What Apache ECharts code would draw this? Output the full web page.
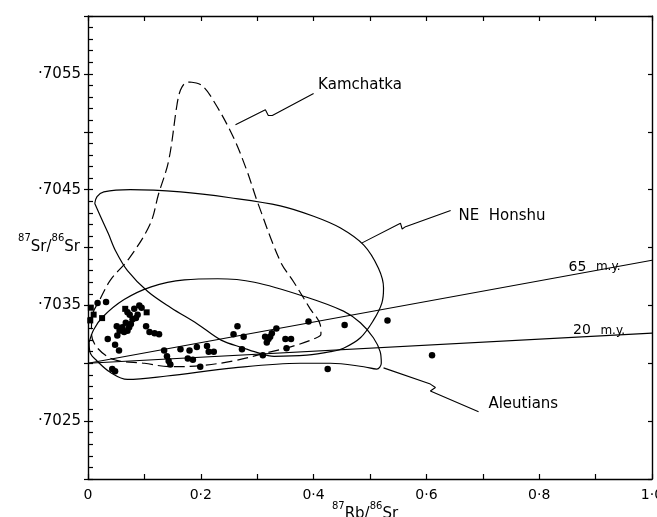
<!DOCTYPE html>
<html>
<head>
<meta charset="utf-8">
<script src="https://cdn.jsdelivr.net/npm/echarts@6/dist/echarts.min.js"></script>
<style>
  html, body { margin: 0; padding: 0; background: #fff; }
  #chart { width: 657px; height: 517px; }
</style>
</head>
<body>
<div id="chart"></div>
<script>
// axis tick labels
const xTickValues = [0, 0.2, 0.4, 0.6, 0.8, 1.0];
const xTickLabels = ['0', '0·2', '0·4', '0·6', '0·8', '1·0'];
const yTickValues = [0.7025, 0.7035, 0.7045, 0.7055];
const yTickLabels = ['·7025', '·7035', '·7045', '·7055'];

// 87Rb/86Sr, 87Sr/86Sr sample analyses (filled circles)
const samplePoints = [
  [0.017, 0.70352], [0.032, 0.70353],
  [0.070, 0.70344], [0.074, 0.70342], [0.082, 0.70347], [0.091, 0.70350],
  [0.095, 0.70348], [0.088, 0.70342], [0.085, 0.70339], [0.079, 0.70338],
  [0.076, 0.70334], [0.067, 0.70335], [0.051, 0.70332], [0.056, 0.70328],
  [0.061, 0.70331], [0.064, 0.70327], [0.070, 0.70328], [0.073, 0.70331],
  [0.052, 0.70324], [0.103, 0.70332], [0.109, 0.70327], [0.118, 0.70326],
  [0.126, 0.70325], [0.035, 0.70321], [0.048, 0.70316], [0.055, 0.70311],
  [0.043, 0.70295], [0.048, 0.70293],
  [0.135, 0.70311], [0.140, 0.70306], [0.143, 0.70302], [0.146, 0.70299],
  [0.164, 0.70312], [0.180, 0.70311], [0.193, 0.70314], [0.211, 0.70315],
  [0.214, 0.70310], [0.223, 0.70310], [0.177, 0.70304], [0.186, 0.70303],
  [0.199, 0.70297],
  [0.258, 0.70325], [0.265, 0.70332], [0.276, 0.70323], [0.273, 0.70312],
  [0.310, 0.70307], [0.314, 0.70323], [0.317, 0.70318], [0.320, 0.70321],
  [0.323, 0.70323], [0.326, 0.70326], [0.334, 0.70330], [0.350, 0.70321],
  [0.360, 0.70321], [0.352, 0.70313], [0.391, 0.70336], [0.425, 0.70295],
  [0.455, 0.70333], [0.531, 0.70337], [0.610, 0.70307]
];

// samples plotted as filled squares
const squarePoints = [
  [0.005, 0.70348], [0.010, 0.70342], [0.004, 0.70337], [0.025, 0.70339],
  [0.066, 0.70347], [0.104, 0.70344]
];

// reference isochrons
const isochron65 = [[0, 0.70300], [1.0, 0.70389]];
const isochron20 = [[0, 0.70300], [1.0, 0.70326]];

// field outlines
const kamchatka = [
  [0.181, 0.70543], [0.202, 0.70540], [0.226, 0.70524], [0.258, 0.70495],
  [0.282, 0.70466], [0.300, 0.70440], [0.341, 0.70388], [0.365, 0.70370],
  [0.394, 0.70347], [0.412, 0.70333], [0.413, 0.70325], [0.400, 0.70321],
  [0.365, 0.70315], [0.317, 0.70309], [0.258, 0.70302], [0.200, 0.70298],
  [0.146, 0.70297], [0.100, 0.70300], [0.047, 0.70303], [0.017, 0.70313],
  [0.006, 0.70326], [0.008, 0.70342], [0.020, 0.70354], [0.040, 0.70372],
  [0.072, 0.70390], [0.110, 0.70420], [0.125, 0.70446], [0.143, 0.70475],
  [0.158, 0.70524], [0.164, 0.70536], [0.172, 0.70542], [0.181, 0.70543]
];

const neHonshu = [
  [0.012, 0.70438], [0.016, 0.70444], [0.028, 0.70448], [0.075, 0.70450],
  [0.164, 0.70448], [0.252, 0.70443], [0.341, 0.70436], [0.400, 0.70427],
  [0.447, 0.70417], [0.489, 0.70402], [0.515, 0.70382], [0.524, 0.70365],
  [0.521, 0.70352], [0.506, 0.70337], [0.483, 0.70322], [0.453, 0.70313],
  [0.430, 0.70310], [0.388, 0.70307], [0.330, 0.70306], [0.295, 0.70310],
  [0.277, 0.70313], [0.236, 0.70320], [0.194, 0.70334], [0.147, 0.70348],
  [0.106, 0.70362], [0.070, 0.70380], [0.049, 0.70397], [0.036, 0.70412],
  [0.022, 0.70427], [0.012, 0.70438]
];

const aleutians = [
  [0.002, 0.70318], [0.010, 0.70329], [0.026, 0.70340], [0.064, 0.70355],
  [0.112, 0.70366], [0.171, 0.70372], [0.230, 0.70373], [0.295, 0.70370],
  [0.388, 0.70357], [0.453, 0.70345], [0.483, 0.70335], [0.506, 0.70322],
  [0.518, 0.70310], [0.520, 0.70300], [0.512, 0.70295], [0.489, 0.70297],
  [0.430, 0.70300], [0.376, 0.70300], [0.258, 0.70296], [0.140, 0.70289],
  [0.070, 0.70286], [0.040, 0.70292], [0.016, 0.70302], [0.004, 0.70309],
  [0.002, 0.70318]
];

// leader lines from labels to fields
const kamchatkaLeader = [[0.2615, 0.70506], [0.3145, 0.70519], [0.3197, 0.70514], [0.3268, 0.70514], [0.400, 0.70533]];
const honshuLeader = [[0.486, 0.70404], [0.554, 0.70421], [0.557, 0.70416], [0.563, 0.70418], [0.643, 0.70432]];
const aleutiansLeader = [[0.524, 0.70296], [0.607, 0.70282], [0.616, 0.70279], [0.607, 0.70276], [0.6925, 0.70258]];

// text annotations
const annotations = [
  { text: 'Kamchatka', at: [0.408, 0.70540] },
  { text: 'NE  Honshu', at: [0.657, 0.70427] },
  { text: 'Aleutians', at: [0.710, 0.70265] },
  { text: '{n|65}  {u|m.y.}', at: [0.852, 0.70383] },
  { text: '{n|20}  {u|m.y.}', at: [0.860, 0.70328] }
];

const FONT = 'DejaVu Sans';
const INK = '#000';

function lookup(values, labels, v) {
  for (let i = 0; i < values.length; i++) {
    if (Math.abs(values[i] - v) < 1e-7) return labels[i];
  }
  return '';
}

function outline(data, dashed) {
  return {
    type: 'line',
    data: data,
    smooth: 0.35,
    symbol: 'none',
    silent: true,
    lineStyle: { color: INK, width: 1.2, type: dashed ? [11, 5] : 'solid' }
  };
}

function straight(data, width) {
  return {
    type: 'line',
    data: data,
    symbol: 'none',
    silent: true,
    lineStyle: { color: INK, width: width }
  };
}

const chart = echarts.init(document.getElementById('chart'));

const labelText = { color: INK, fontFamily: FONT, textBorderWidth: 0, opacity: 1 };

const option = {
  animation: false,
  backgroundColor: '#fff',
  textStyle: { fontFamily: FONT, color: INK },
  grid: { left: 88, top: 16, right: 5, bottom: 38, containLabel: false, outerBoundsMode: 'none' },
  xAxis: [
    {
      type: 'value', min: 0, max: 1, interval: 0.1, position: 'bottom',
      axisLine: { show: true, lineStyle: { color: INK, width: 1.4 } },
      axisTick: { show: true, inside: true, length: 5, lineStyle: { color: INK, width: 1.2 } },
      axisLabel: {
        show: true, margin: 9, fontSize: 14, color: INK, fontFamily: FONT,
        formatter: v => lookup(xTickValues, xTickLabels, v)
      },
      splitLine: { show: false },
      name: '{s|87}{m|Rb}{m|/}{s|86}{m|Sr}',
      nameLocation: 'middle',
      nameGap: 22,
      nameMoveOverlap: false,
      nameTextStyle: {
        padding: [0, 10, 0, 0],
        rich: {
          s: { fontSize: 10, lineHeight: 12, verticalAlign: 'top', color: INK, fontFamily: FONT },
          m: { fontSize: 15, lineHeight: 26, color: INK, fontFamily: FONT }
        }
      }
    },
    {
      type: 'value', min: 0, max: 1, interval: 0.1, position: 'top',
      axisLine: { show: true, lineStyle: { color: INK, width: 1.4 } },
      axisTick: { show: true, inside: true, length: 5, lineStyle: { color: INK, width: 1.2 } },
      axisLabel: { show: false },
      splitLine: { show: false }
    }
  ],
  yAxis: [
    {
      type: 'value', min: 0.702, max: 0.706, interval: 0.0001, position: 'left',
      axisLine: { show: true, lineStyle: { color: INK, width: 1.4 } },
      axisTick: { show: true, inside: true, length: 5, lineStyle: { color: INK, width: 1.2 } },
      axisLabel: {
        show: true, margin: 7, fontSize: 15, color: INK, fontFamily: FONT,
        formatter: v => lookup(yTickValues, yTickLabels, v)
      },
      splitLine: { show: false },
      name: '{s|87}{m|Sr}{m|/}{s|86}{m|Sr}',
      nameLocation: 'middle',
      nameRotate: 0,
      nameGap: 8,
      nameMoveOverlap: false,
      nameTextStyle: {
        align: 'right',
        rich: {
          s: { fontSize: 10, lineHeight: 10, verticalAlign: 'top', color: INK, fontFamily: FONT },
          m: { fontSize: 15, lineHeight: 28, color: INK, fontFamily: FONT }
        }
      }
    },
    {
      type: 'value', min: 0.702, max: 0.706, interval: 0.0005, position: 'left', offset: 0,
      axisLine: { show: false },
      axisTick: { show: true, inside: false, length: 4, lineStyle: { color: INK, width: 1.2 } },
      axisLabel: { show: false },
      splitLine: { show: false }
    },
    {
      type: 'value', min: 0.702, max: 0.706, interval: 0.0005, position: 'right',
      axisLine: { show: true, lineStyle: { color: INK, width: 1.4 } },
      axisTick: { show: true, inside: true, length: 4, lineStyle: { color: INK, width: 1.2 } },
      axisLabel: { show: false },
      splitLine: { show: false }
    }
  ],
  series: [
    straight(isochron65, 1.1),
    straight(isochron20, 1.1),
    outline(kamchatka, true),
    outline(neHonshu, false),
    outline(aleutians, false),
    straight(kamchatkaLeader, 1.1),
    straight(honshuLeader, 1.1),
    straight(aleutiansLeader, 1.1),
    {
      type: 'scatter',
      data: samplePoints,
      symbol: 'circle',
      symbolSize: 6.5,
      silent: true,
      itemStyle: { color: INK, opacity: 1 }
    },
    {
      type: 'scatter',
      data: squarePoints,
      symbol: 'rect',
      symbolSize: 6,
      silent: true,
      itemStyle: { color: INK, opacity: 1 }
    },
    {
      type: 'scatter',
      symbolSize: 0,
      silent: true,
      itemStyle: { opacity: 1 },
      data: annotations.map(a => ({
        value: a.at,
        label: Object.assign({ formatter: a.text }, labelText)
      })),
      label: Object.assign({
        show: true,
        position: 'right',
        distance: 0,
        fontSize: 15,
        rich: {
          n: { fontSize: 14, color: INK, fontFamily: FONT },
          u: { fontSize: 12, color: INK, fontFamily: FONT }
        }
      }, labelText)
    }
  ]
};

chart.setOption(option);
</script>
</body>
</html>
